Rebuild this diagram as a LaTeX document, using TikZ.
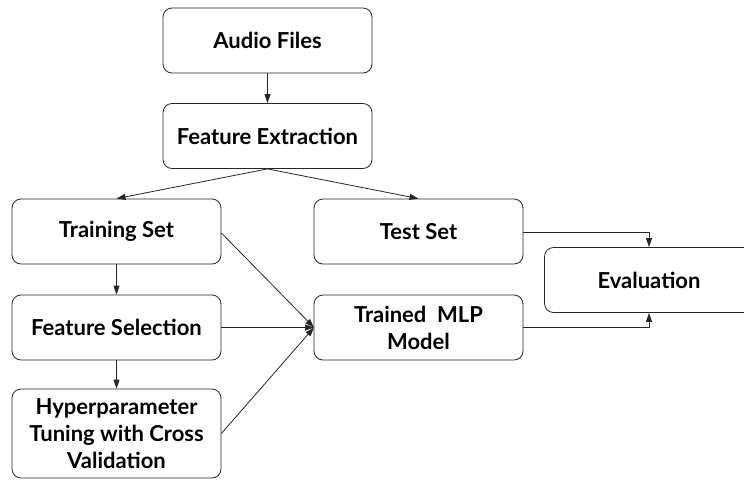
\documentclass[tikz,border=0pt]{standalone}
\usepackage{fontspec}
\setmainfont{Lato}
\usetikzlibrary{arrows.meta}
\begin{document}
\begin{tikzpicture}[x=1pt,y=-1pt,
  box/.style={draw=black!85, line width=0.8pt, rounded corners=9pt, minimum width=209pt, minimum height=65pt, align=center, font=\fontsize{22}{27}\selectfont\bfseries, inner sep=1pt},
  arr/.style={draw=black!85, line width=0.8pt, -{Triangle[length=9pt,width=6pt]}}]
\useasboundingbox (0,0) rectangle (744,480);
\node[box] (audio) at (267.5,40.5) {Audio Files};
\node[box] (fe) at (267.5,136) {Feature Extraction};
\node[box] (train) at (116.5,231.5) {Training Set};
\node[box] (fs) at (116.5,327.5) {Feature Selection};
\node[box, minimum height=89pt] (hyp) at (116.5,433.5) {Hyperparameter\\Tuning with Cross\\Validation};
\node[box] (test) at (418.5,231.5) {Test Set};
\node[box] (mlp) at (418.5,327.5) {Trained\ \ MLP\\Model};
\node[box] (eval) at (649,280) {Evaluation};
\coordinate (mlpin) at (314,327.5);
\draw[arr] (audio.south) -- (fe.north);
\draw[arr] (fe.south) -- (train.north);
\draw[arr] (fe.south) -- (test.north);
\draw[arr] (train.south) -- (fs.north);
\draw[arr] (fs.south) -- (hyp.north);
\draw[arr] (train.east |- 0,233) -- (mlpin);
\draw[arr] (fs.east) -- (mlpin);
\draw[arr] (hyp.east) -- (mlpin);
\draw[arr] (test.east |- 0,232) -| (eval.north);
\draw[arr] (mlp.east) -| (eval.south);
\end{tikzpicture}
\end{document}
